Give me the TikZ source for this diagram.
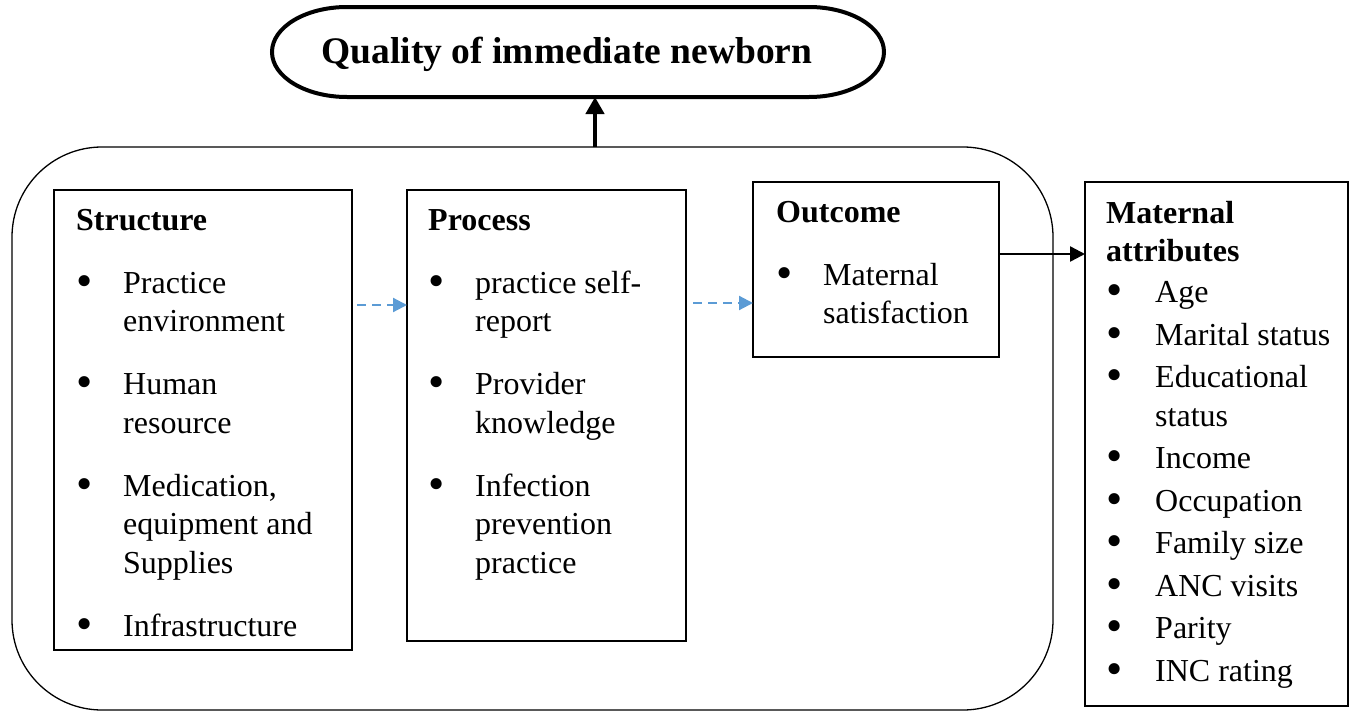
\documentclass[tikz,border=0pt]{standalone}
\usepackage{fontspec}
\setmainfont{Liberation Serif}
\usetikzlibrary{arrows.meta}
\definecolor{dblue}{HTML}{5B9BD5}
\newcommand{\bul}{\raisebox{-3pt}{\scalebox{1.45}{\textbullet}}}
\newcommand{\hd}[1]{\multicolumn{2}{@{}l@{}}{\textbf{#1}}}
\begin{document}
\begin{tikzpicture}[x=1pt,y=-1pt,
  boxframe/.style={draw=black, line width=1.5pt, inner sep=0pt, outer sep=0pt, anchor=north west},
  txt/.style={anchor=base west, inner sep=0pt, font=\fontsize{32}{38.5}\selectfont},
  dasharrow/.style={draw=dblue, line width=2.2pt, dash pattern=on 9pt off 6pt, -{Triangle[length=14pt,width=14pt,fill=dblue]}},
  solidarrow/.style={draw=black, line width=2.4pt, -{Triangle[length=15pt,width=15pt]}},
  thickarrow/.style={draw=black, line width=4.5pt, -{Triangle[length=17pt,width=18pt]}}]
\useasboundingbox (0,0) rectangle (1353,712);
% title
\node[anchor=base, inner sep=0pt, font=\fontsize{37.5}{44}\selectfont\bfseries] (title) at (567,63) {Quality of immediate newborn};
\draw[line width=4pt] (347,7) -- (809,7) .. controls (850.4,7) and (884,27.1) .. (884,52)
  .. controls (884,76.9) and (850.4,97) .. (809,97) -- (347,97)
  .. controls (305.6,97) and (272,76.9) .. (272,52) .. controls (272,27.1) and (305.6,7) .. (347,7) -- cycle;
\coordinate (titlebot) at (595,97);
% big frame
\node[draw=black, line width=1.3pt, rounded corners=90pt, minimum width=1041, minimum height=563, inner sep=0pt, outer sep=0pt, anchor=north west] (frame) at (12,147) {};
% boxes
\node[boxframe, minimum width=298, minimum height=460] (sbox) at (54,190) {};
\node[boxframe, minimum width=279, minimum height=451] (pbox) at (407,190) {};
\node[boxframe, minimum width=246, minimum height=175] (obox) at (753,182) {};
\node[boxframe, minimum width=263, minimum height=524] (mbox) at (1085,182) {};
% texts
\node[txt] (stext) at (76,230) {\begin{tabular}[t]{@{}p{47pt}@{}l@{}}
\hd{Structure}\\[24.5pt]
\bul & Practice\\
 & environment\\[24.5pt]
\bul & Human\\
 & resource\\[24.5pt]
\bul & Medication,\\
 & equipment and\\
 & Supplies\\[24.5pt]
\bul & Infrastructure
\end{tabular}};
\node[txt] (ptext) at (428,230) {\begin{tabular}[t]{@{}p{47pt}@{}l@{}}
\hd{Process}\\[24.5pt]
\bul & practice self-\\
 & report\\[24.5pt]
\bul & Provider\\
 & knowledge\\[24.5pt]
\bul & Infection\\
 & prevention\\
 & practice
\end{tabular}};
\node[txt] (otext) at (776,222) {\begin{tabular}[t]{@{}p{47pt}@{}l@{}}
\hd{Outcome}\\[24.5pt]
\bul & Maternal\\
 & satisfaction
\end{tabular}};
\node[txt] (mtext) at (1106,223) {\begin{tabular}[t]{@{}p{49pt}@{}l@{}}
\hd{Maternal}\\
\hd{attributes}\\[2.5pt]
\bul & Age\\[4pt]
\bul & Marital status\\[4pt]
\bul & Educational\\
 & status\\[4pt]
\bul & Income\\[4pt]
\bul & Occupation\\[4pt]
\bul & Family size\\[4pt]
\bul & ANC visits\\[4pt]
\bul & Parity\\[4pt]
\bul & INC rating
\end{tabular}};
% connectors
\coordinate (a1) at (0,305);
\coordinate (a2) at (0,303);
\coordinate (a3) at (0,254);
\coordinate (up) at (595,147);
\draw[dasharrow, shorten <=5pt] (sbox.east |- a1) -- (pbox.west |- a1);
\draw[dasharrow, shorten <=7pt] (pbox.east |- a2) -- (obox.west |- a2);
\draw[solidarrow] (obox.east |- a3) -- (mbox.west |- a3);
\draw[thickarrow] (up) -- (titlebot);
\end{tikzpicture}
\end{document}
